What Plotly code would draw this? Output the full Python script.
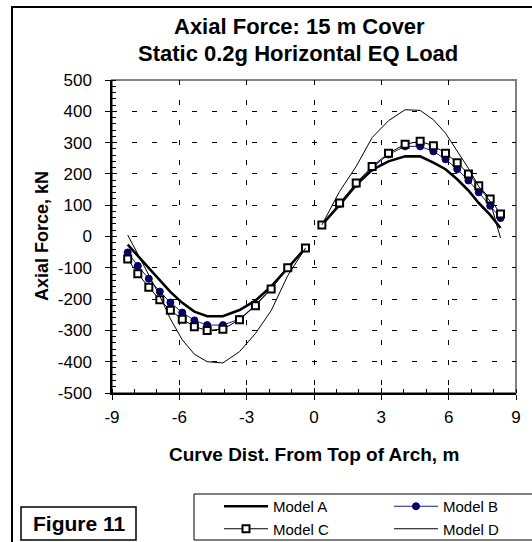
import plotly.graph_objects as go

# Curve distance from top of arch (m), left and right halves of the arch
X_LEFT = [-8.30, -7.85, -7.36, -6.87, -6.40, -5.87, -5.33, -4.76, -4.06, -3.32, -2.61, -1.91, -1.17, -0.38]
X_RIGHT = [0.35, 1.14, 1.88, 2.59, 3.32, 4.06, 4.73, 5.32, 5.86, 6.38, 6.88, 7.34, 7.85, 8.31]

# Axial force (kN) for each model
A_LEFT = [-26, -62, -100, -140, -177, -212, -240, -255, -255, -235, -205, -160, -100, -37]
A_RIGHT = [37, 101, 165, 213, 240, 256, 256, 236, 215, 183, 147, 107, 69, 27]

B_LEFT = [-51, -94, -135, -176, -211, -243, -268, -283, -283, -264, -219, -166, -100, -37]
B_RIGHT = [37, 104, 168, 220, 262, 288, 288, 272, 247, 215, 179, 141, 98, 59]

C_LEFT = [-72, -119, -162, -202, -236, -264, -288, -300, -296, -266, -221, -168, -100, -37]
C_RIGHT = [37, 107, 171, 224, 266, 295, 304, 290, 266, 236, 200, 162, 120, 72]

D_LEFT = [5, -55, -125, -190, -263, -330, -376, -400, -404, -368, -310, -237, -125, -37]
D_RIGHT = [37, 144, 224, 316, 370, 405, 403, 373, 330, 272, 218, 160, 112, -5]

X_TICKS = [-9, -6, -3, 0, 3, 6, 9]
Y_TICKS = [-500, -400, -300, -200, -100, 0, 100, 200, 300, 400, 500]

FONT = "Liberation Sans, Arial, sans-serif"

# Figure geometry (pixels)
W, H = 532, 542
ML, MR, MT, MB = 112, 16, 80, 149
PW, PH = W - ML - MR, H - MT - MB


def px(x):
    return (x - ML) / PW


def py(y):
    return (H - MB - y) / PH


def cy(y):
    # container-relative vertical position
    return 1 - y / H


def joined(left, right):
    # break the line over the crown of the arch
    return list(left) + [None] + list(right)


x_all = joined(X_LEFT, X_RIGHT)

fig = go.Figure()

fig.add_trace(go.Scatter(
    x=x_all, y=joined(A_LEFT, A_RIGHT), name="Model A", mode="lines",
    line=dict(color="black", width=2.6), legend="legend",
))
fig.add_trace(go.Scatter(
    x=x_all, y=joined(B_LEFT, B_RIGHT), name="Model B", mode="lines+markers",
    line=dict(color="#1a1a99", width=1),
    marker=dict(symbol="circle", size=7, color="#000080", line=dict(color="#000033", width=1)),
    legend="legend2",
))
fig.add_trace(go.Scatter(
    x=x_all, y=joined(C_LEFT, C_RIGHT), name="Model C", mode="lines+markers",
    line=dict(color="black", width=1),
    marker=dict(symbol="square", size=7, color="white", line=dict(color="black", width=2)),
    legend="legend",
))
fig.add_trace(go.Scatter(
    x=x_all, y=joined(D_LEFT, D_RIGHT), name="Model D", mode="lines",
    line=dict(color="black", width=1), legend="legend2",
))

# overlay axes carry the inner half of the major ticks
fig.add_trace(go.Scatter(x=[None], y=[None], xaxis="x2", yaxis="y2",
                         showlegend=False, hoverinfo="skip"))

grid_dash = "5px,15px"
legend_common = dict(
    orientation="v", xref="paper", yref="container", xanchor="left", yanchor="top",
    bgcolor="rgba(0,0,0,0)", borderwidth=0, itemwidth=44,
    font=dict(family=FONT, size=15, color="black"),
)

fig.update_layout(
    width=W, height=H,
    margin=dict(l=ML, r=MR, t=MT, b=MB, pad=0, autoexpand=False),
    paper_bgcolor="white", plot_bgcolor="white",
    font=dict(family=FONT, color="black", size=17),
    showlegend=True,
    legend=dict(x=px(219), y=cy(490), **legend_common),
    legend2=dict(x=px(389), y=cy(490), **legend_common),
    xaxis=dict(
        range=[-9, 9], tickvals=X_TICKS, ticktext=[str(v) for v in X_TICKS],
        ticks="outside", ticklen=5, tickwidth=1, tickcolor="black",
        showline=True, linecolor="black", linewidth=1.5,
        showgrid=True, gridcolor="black", gridwidth=1, griddash=grid_dash,
        zeroline=False, ticklabelstandoff=3,
        minor=dict(dtick=1, tick0=0, ticks="inside", ticklen=4, tickcolor="black", showgrid=False),
        tickfont=dict(size=17),
    ),
    yaxis=dict(
        range=[-500, 500], tickvals=Y_TICKS, ticktext=[str(v) for v in Y_TICKS],
        ticks="outside", ticklen=5, tickwidth=1, tickcolor="black",
        showline=True, linecolor="black", linewidth=1.5,
        showgrid=True, gridcolor="black", gridwidth=1, griddash=grid_dash,
        zeroline=False, ticklabelstandoff=10,
        minor=dict(dtick=20, tick0=0, ticks="inside", ticklen=4, tickcolor="black", showgrid=False),
        tickfont=dict(size=17),
    ),
    xaxis2=dict(
        overlaying="x", anchor="y2", side="bottom", range=[-9, 9], tickvals=X_TICKS,
        ticks="inside", ticklen=5, tickcolor="black", showticklabels=False,
        showgrid=False, zeroline=False, showline=False,
    ),
    yaxis2=dict(
        overlaying="y", anchor="x2", side="left", range=[-500, 500], tickvals=Y_TICKS,
        ticks="inside", ticklen=5, tickcolor="black", showticklabels=False,
        showgrid=False, zeroline=False, showline=False,
    ),
)

shapes = [
    # chart area frame
    dict(type="rect", xref="paper", yref="paper", x0=px(12), x1=px(545), y0=py(7), y1=py(560),
         line=dict(color="black", width=2), fillcolor="rgba(0,0,0,0)", layer="below"),
    # plot area frame
    dict(type="rect", xref="paper", yref="paper", x0=0, x1=1, y0=0, y1=1,
         line=dict(color="#808080", width=2), fillcolor="rgba(0,0,0,0)", layer="below"),
    # legend box
    dict(type="rect", xref="paper", yref="paper", x0=px(194), x1=px(545), y0=py(494), y1=py(540),
         line=dict(color="black", width=1), fillcolor="white", layer="below"),
    # figure label box
    dict(type="rect", xref="paper", yref="paper", x0=px(21), x1=px(136), y0=py(507), y1=py(540),
         line=dict(color="black", width=1.5), fillcolor="white", layer="below"),
]
fig.update_layout(shapes=shapes)

annotations = [
    dict(text="<b>Axial Force: 15 m Cover</b>", x=px(299), y=py(27), font=dict(size=22)),
    dict(text="<b>Static 0.2g Horizontal EQ Load</b>", x=px(298), y=py(53), font=dict(size=22)),
    dict(text="<b>Curve Dist. From Top of Arch, m</b>", x=px(314), y=py(455), font=dict(size=19)),
    dict(text="<b>Axial Force, kN</b>", x=px(42), y=py(236), textangle=-90, font=dict(size=18)),
    dict(text="<b>Figure 11</b>", x=px(79), y=py(523), font=dict(size=21)),
]
for a in annotations:
    a.update(xref="paper", yref="paper", showarrow=False, xanchor="center", yanchor="middle")
    a["font"].update(family=FONT, color="black")
fig.update_layout(annotations=annotations)

fig.write_html("out.html")
